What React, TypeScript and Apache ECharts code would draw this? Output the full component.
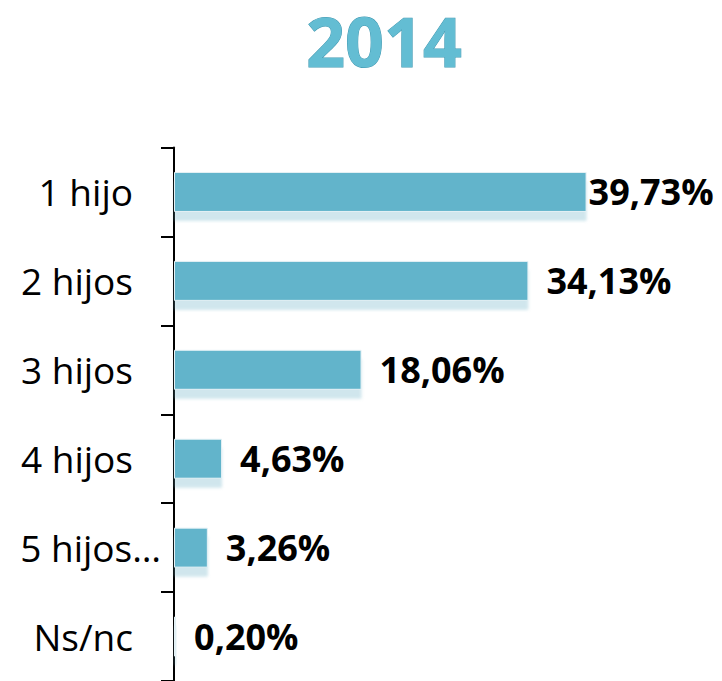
import React, { useEffect, useRef } from "react";
import * as echarts from "echarts";

const title = "2014";
const categories = ["1 hijo", "2 hijos", "3 hijos", "4 hijos", "5 hijos…", "Ns/nc"];
const values = [39.73, 34.13, 18.06, 4.63, 3.26, 0.2];
const valueLabels = ["39,73%", "34,13%", "18,06%", "4,63%", "3,26%", "0,20%"];

export default function App() {
  const ref = useRef<HTMLDivElement>(null);
  useEffect(() => {
    if (!ref.current) return;
    const chart = echarts.init(ref.current, null, { renderer: "svg" });
    chart.setOption({
      animation: false,
      backgroundColor: "#ffffff",
      graphic: [
        {
          type: "text",
          x: 384,
          y: 40,
          style: {
            text: title,
            font: 'bold 68px "Open Sans"',
            fill: "#63BDD3",
            stroke: "#3F97B0",
            lineWidth: 1,
            textAlign: "center",
            textVerticalAlign: "middle",
            shadowColor: "rgba(0,0,0,0.3)",
            shadowOffsetX: 2,
            shadowOffsetY: 2,
            shadowBlur: 2,
          },
        },
      ],
      grid: { left: 174, right: 8, top: 147.5, height: 537, containLabel: false },
      xAxis: { type: "value", min: 0, max: 52, show: false },
      yAxis: {
        type: "category",
        inverse: true,
        data: categories,
        axisLine: { show: true, lineStyle: { color: "#000", width: 2 } },
        axisTick: { show: true, length: 13, lineStyle: { color: "#000", width: 2 } },
        axisLabel: {
          margin: 13,
          formatter: (v: string) => (v === "5 hijos…" ? `{b|${v}}` : `{a|${v}}`),
          rich: {
            a: { fontFamily: "Open Sans", fontSize: 37, color: "#000", padding: [0, 28, 0, 0] },
            b: { fontFamily: "Open Sans", fontSize: 37, color: "#000" },
          },
        },
        splitLine: { show: false },
      },
      series: [
        {
          type: "bar",
          barWidth: 40,
          data: values.map((v, i) => ({
            value: v,
            label: { distance: i === 0 ? 2 : 18 },
          })),
          itemStyle: {
            color: "#62B4CB",
            borderColor: "#E6F2F6",
            borderWidth: 1,
            shadowColor: "rgba(120,185,205,0.35)",
            shadowOffsetY: 9,
            shadowBlur: 3,
          },
          label: {
            show: true,
            position: "right",
            formatter: (p: any) => valueLabels[p.dataIndex],
            fontFamily: "Open Sans",
            fontWeight: "bold",
            fontSize: 36,
            color: "#000",
          },
        },
      ],
    });
    return () => chart.dispose();
  }, []);
  return <div ref={ref} style={{ width: 722, height: 681, position: "absolute", left: 0, top: 0 }} />;
}
